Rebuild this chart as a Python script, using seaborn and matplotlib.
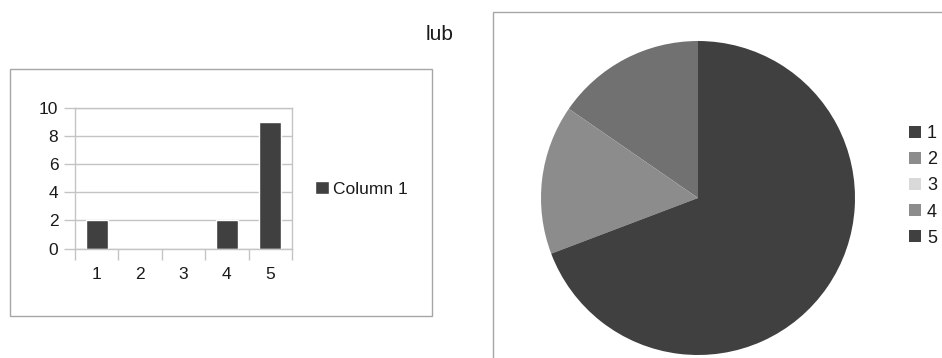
import matplotlib
matplotlib.use("Agg")
import matplotlib.pyplot as plt
from matplotlib.patches import Rectangle, Patch
import seaborn as sns
import pandas as pd

# Data
categories = ["1", "2", "3", "4", "5"]
counts = [2, 0, 0, 2, 9]
series_name = "Column 1"
y_ticks = [0, 2, 4, 6, 8, 10]
pie_colors = ["#717171", "#8c8c8c", "#d9d9d9", "#8c8c8c", "#404040"]
legend_colors = ["#404040", "#8c8c8c", "#d9d9d9", "#8c8c8c", "#404040"]
separator_text = "lub"

sns.set_theme(style="white")
plt.rcParams["font.family"] = ["Liberation Sans", "DejaVu Sans"]

W, H = 942, 358
fig = plt.figure(figsize=(W / 100, H / 100), dpi=100)
fig.patch.set_facecolor("white")

def fx(px):
    return px / W

def fy(py):
    return 1 - py / H

frame_col = "#a6a6a6"
grid_col = "#c4c4c4"
bar_col = "#404040"
text_col = "#1a1a1a"
fs = 12.5

# Frames around the two charts
fig.patches.append(Rectangle((fx(9.5), fy(316)), fx(432 - 9.5), (316 - 69) / H,
                             transform=fig.transFigure, fill=False,
                             edgecolor=frame_col, linewidth=1))
fig.patches.append(Rectangle((fx(492.5), fy(370)), fx(500), (370 - 12) / H,
                             transform=fig.transFigure, fill=False,
                             edgecolor=frame_col, linewidth=1))

fig.text(fx(440), fy(34), separator_text, ha="center", va="center",
         fontsize=15, color=text_col)

# Column chart
ax = fig.add_axes([fx(75), fy(248.7), fx(292 - 75), (248.7 - 107.7) / H])
df = pd.DataFrame({"category": categories, "value": counts})
sns.barplot(data=df, x="category", y="value", color=bar_col, width=0.5,
            saturation=1, ax=ax, label=series_name)
ax.set_xlim(-0.5, len(categories) - 0.5)
ax.set_ylim(0, 10)
ax.set_yticks(y_ticks)
ax.set_xlabel("")
ax.set_ylabel("")
ax.yaxis.grid(True, color=grid_col, linewidth=1)
ax.set_axisbelow(True)
for s in ax.spines.values():
    s.set_color(grid_col)
    s.set_linewidth(1)
ax.set_xticks([i - 0.5 for i in range(len(categories) + 1)], minor=True)
ax.tick_params(axis="x", which="major", length=0, pad=13, labelsize=fs,
               labelcolor=text_col)
ax.tick_params(axis="x", which="minor", length=8, width=1, color=grid_col,
               bottom=True, direction="out")
ax.tick_params(axis="y", which="major", length=8, width=1, color=grid_col,
               left=True, direction="out", pad=4, labelsize=fs,
               labelcolor=text_col)
ax.legend(loc="center left", bbox_to_anchor=(fx(315), fy(189)),
          bbox_transform=fig.transFigure, frameon=False, fontsize=fs,
          borderpad=0, borderaxespad=0,
          handlelength=0.8, handleheight=0.8, handletextpad=0.25,
          labelcolor=text_col)

# Pie chart
r = 157
cx, cy = 698, 198
pax = fig.add_axes([fx(cx - r), fy(cy + r), fx(2 * r), 2 * r / H])
pax.pie(counts, colors=pie_colors, startangle=90, counterclock=True,
        radius=1, wedgeprops=dict(linewidth=0))
pax.set_xlim(-1, 1)
pax.set_ylim(-1, 1)
pax.set_aspect("equal")
pax.axis("off")

handles = [Patch(facecolor=c, edgecolor="none") for c in legend_colors]
fig.legend(handles, categories, loc="center left",
           bbox_to_anchor=(fx(909), fy(186)), frameon=False, fontsize=13,
           borderpad=0, borderaxespad=0,
           handlelength=0.65, handleheight=0.65, handletextpad=0.35,
           labelspacing=0.5, labelcolor=text_col)

fig.savefig("out.png", dpi=100, facecolor="white")
